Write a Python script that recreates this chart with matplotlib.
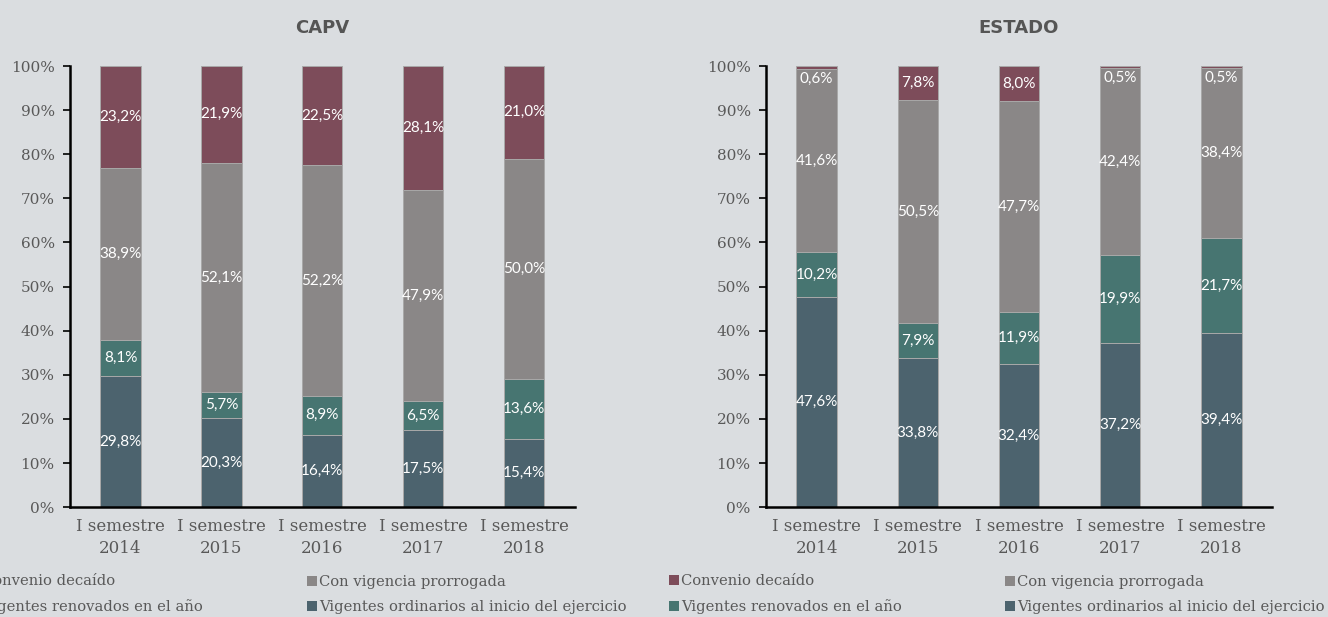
import matplotlib
matplotlib.use("Agg")
import matplotlib.pyplot as plt
import numpy as np
from matplotlib.patches import Patch

# datos (%), de abajo a arriba
years = ["I semestre\n2014", "I semestre\n2015", "I semestre\n2016", "I semestre\n2017", "I semestre\n2018"]
series_names = ["Vigentes ordinarios al inicio del ejercicio", "Vigentes renovados en el año",
                "Con vigencia prorrogada", "Convenio decaído"]

capv_ordinarios = [29.8, 20.3, 16.4, 17.5, 15.4]
capv_renovados = [8.1, 5.7, 8.9, 6.5, 13.6]
capv_prorrogada = [38.9, 52.1, 52.2, 47.9, 50.0]
capv_decaido = [23.2, 21.9, 22.5, 28.1, 21.0]

estado_ordinarios = [47.6, 33.8, 32.4, 37.2, 39.4]
estado_renovados = [10.2, 7.9, 11.9, 19.9, 21.7]
estado_prorrogada = [41.6, 50.5, 47.7, 42.4, 38.4]
estado_decaido = [0.6, 7.8, 8.0, 0.5, 0.5]

colors = ["#4C636E", "#477571", "#8A8787", "#7D4C5A"]
bg = "#DADDE0"
txt = "#595959"

fig = plt.figure(figsize=(13.28, 6.17), dpi=100)
fig.patch.set_facecolor(bg)

ax1 = fig.add_axes([0.0527, 0.178, 0.380, 0.715])
ax2 = fig.add_axes([0.5768, 0.178, 0.381, 0.715])


def draw(ax, series, title):
    ax.set_facecolor(bg)
    x = np.arange(len(years))
    bottom = np.zeros(len(years))
    for vals, col in zip(series, colors):
        vals = np.array(vals)
        ax.bar(x, vals, 0.4, bottom=bottom, color=col, edgecolor="#A8A8A8", linewidth=0.7)
        for xi, b, v in zip(x, bottom, vals):
            yc = b + v / 2
            if v < 2:
                # etiqueta muy pequeña: justo debajo del segmento
                yc = b - 2.3
            ax.text(xi, yc, f"{v:.1f}%".replace(".", ","), ha="center", va="center",
                    color="white", fontsize=11, family="Lato")
        bottom += vals
    ax.set_xlim(-0.5, 4.5)
    ax.set_ylim(0, 100)
    ax.set_yticks(np.arange(0, 101, 10))
    ax.set_yticklabels([f"{v}%" for v in range(0, 101, 10)])
    ax.set_xticks(x)
    ax.set_xticklabels(years, linespacing=1.35)
    for lab in ax.get_yticklabels():
        lab.set_family("DejaVu Serif")
        lab.set_fontsize(11)
        lab.set_color(txt)
    for lab in ax.get_xticklabels():
        lab.set_family("DejaVu Serif")
        lab.set_fontsize(12)
        lab.set_color(txt)
    ax.tick_params(axis="x", length=0, pad=8)
    ax.tick_params(axis="y", length=5, width=1.2, direction="out", pad=6)
    for s in ["top", "right"]:
        ax.spines[s].set_visible(False)
    for s in ["left", "bottom"]:
        ax.spines[s].set_linewidth(1.8)
        ax.spines[s].set_color("black")
    ax.set_title(title, fontsize=13, fontweight="heavy", color="#555555", pad=24,
                 family="DejaVu Sans")


draw(ax1, [capv_ordinarios, capv_renovados, capv_prorrogada, capv_decaido], "CAPV")
draw(ax2, [estado_ordinarios, estado_renovados, estado_prorrogada, estado_decaido], "ESTADO")

handles = [Patch(facecolor=c, edgecolor="none") for c in colors]


def add_legend(x0, idx, y0=0.0365):
    leg = fig.legend([handles[i] for i in idx], [series_names[i] for i in idx],
                     loc="center left", bbox_to_anchor=(x0, y0), frameon=False,
                     prop={"family": "DejaVu Serif", "size": 10.65}, labelcolor=txt,
                     handlelength=0.7, handleheight=0.7, handletextpad=0.12,
                     labelspacing=0.75, borderpad=0, borderaxespad=0)
    return leg


add_legend(-0.0226, [3, 1])
add_legend(0.2312, [2, 0])
add_legend(0.5034, [3, 1])
add_legend(0.7568, [2, 0])

fig.savefig("out.png", dpi=100, facecolor=bg)
